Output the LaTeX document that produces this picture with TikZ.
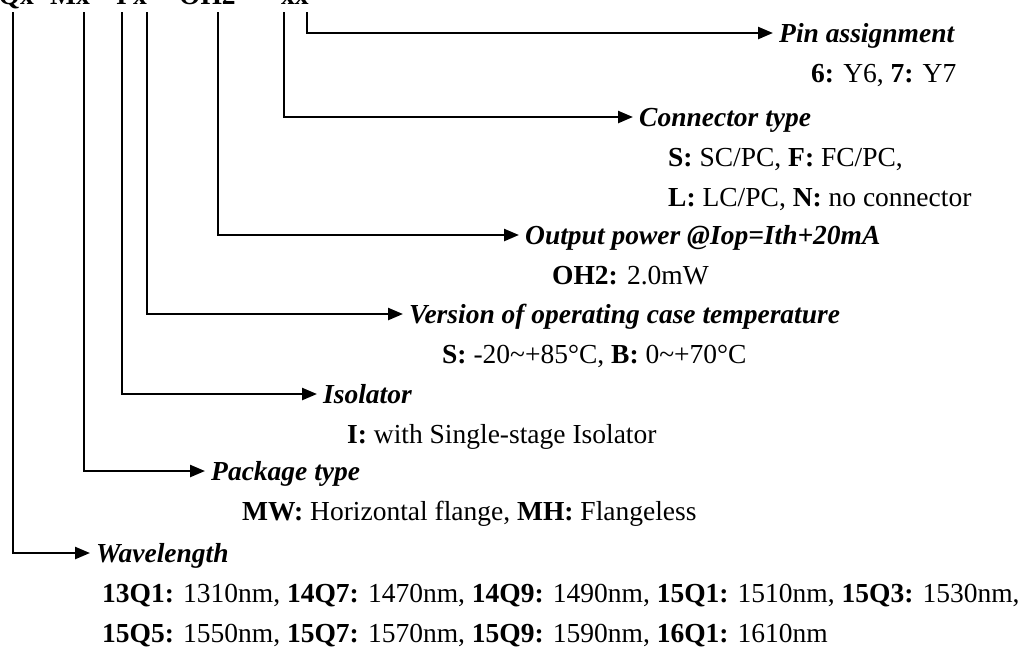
\documentclass[tikz,border=0pt]{standalone}
\usepackage{fontspec}
\setmainfont{Liberation Serif}
\usetikzlibrary{arrows.meta}
\begin{document}
\begin{tikzpicture}[x=1pt,y=-1pt,
  conn/.style={line width=2.4pt,-{Triangle[length=15pt,width=12pt]}},
  ttl/.style={anchor=west,inner xsep=6pt,inner ysep=0pt,text height=20pt,text depth=2pt,
    font=\fontsize{27.5}{40}\selectfont\bfseries\itshape},
  det/.style={anchor=base west,inner sep=0pt,align=left,
    font=\fontsize{27.5}{40}\selectfont},
  hdr/.style={inner sep=0pt,font=\fontsize{27.5}{40}\selectfont\bfseries}]
\useasboundingbox (0,0) rectangle (1025,648);
% header (mostly cut off at the top)
\node[hdr,anchor=base east] (h1) at (34,4) {RQx};
\node[hdr,anchor=base west] (h2) at (50,4) {Mx};
\node[hdr,anchor=base west] (h3) at (116,4) {I};
\node[hdr,anchor=base west] (h4) at (133,4) {x};
\node[hdr,anchor=base west] (h5) at (179,4) {OH2};
\node[hdr,anchor=base west] (h6) at (281,4) {xx};
% start points
\coordinate (s1) at (307,12);
\coordinate (s2) at (284,12);
\coordinate (s3) at (218,12);
\coordinate (s4) at (147,12);
\coordinate (s5) at (122,12);
\coordinate (s6) at (84,12);
\coordinate (s7) at (13,12);
% titles
\node[ttl] (t1) at (773,33) {Pin assignment};
\node[ttl] (t2) at (633,117) {Connector type};
\node[ttl] (t3) at (519,235) {Output power @Iop=Ith+20mA};
\node[ttl] (t4) at (403,314) {Version of operating case temperature};
\node[ttl] (t5) at (317,394) {Isolator};
\node[ttl] (t6) at (205,471) {Package type};
\node[ttl] (t7) at (90,553) {Wavelength};
% details (base = last line)
\node[det] (d1) at (811,82) {\textbf{6:} Y6, \textbf{7:} Y7};
\node[det] (d2) at (668,206) {\textbf{S:} SC/PC, \textbf{F:} FC/PC,\\\textbf{L:} LC/PC, \textbf{N:} no connector};
\node[det] (d3) at (552,284) {\textbf{OH2:} 2.0mW};
\node[det] (d4) at (442,363) {\textbf{S:} -20\textasciitilde+85°C, \textbf{B:} 0\textasciitilde+70°C};
\node[det] (d5) at (347,443) {\textbf{I:} with Single-stage Isolator};
\node[det] (d6) at (242,520) {\textbf{MW:} Horizontal flange, \textbf{MH:} Flangeless};
\node[det] (d7) at (102,642) {\textbf{13Q1:} 1310nm, \textbf{14Q7:} 1470nm, \textbf{14Q9:} 1490nm, \textbf{15Q1:} 1510nm, \textbf{15Q3:} 1530nm,\\\textbf{15Q5:} 1550nm, \textbf{15Q7:} 1570nm, \textbf{15Q9:} 1590nm, \textbf{16Q1:} 1610nm};
% connectors
\draw[conn] (s1) |- (t1.west);
\draw[conn] (s2) |- (t2.west);
\draw[conn] (s3) |- (t3.west);
\draw[conn] (s4) |- (t4.west);
\draw[conn] (s5) |- (t5.west);
\draw[conn] (s6) |- (t6.west);
\draw[conn] (s7) |- (t7.west);
\end{tikzpicture}
\end{document}
